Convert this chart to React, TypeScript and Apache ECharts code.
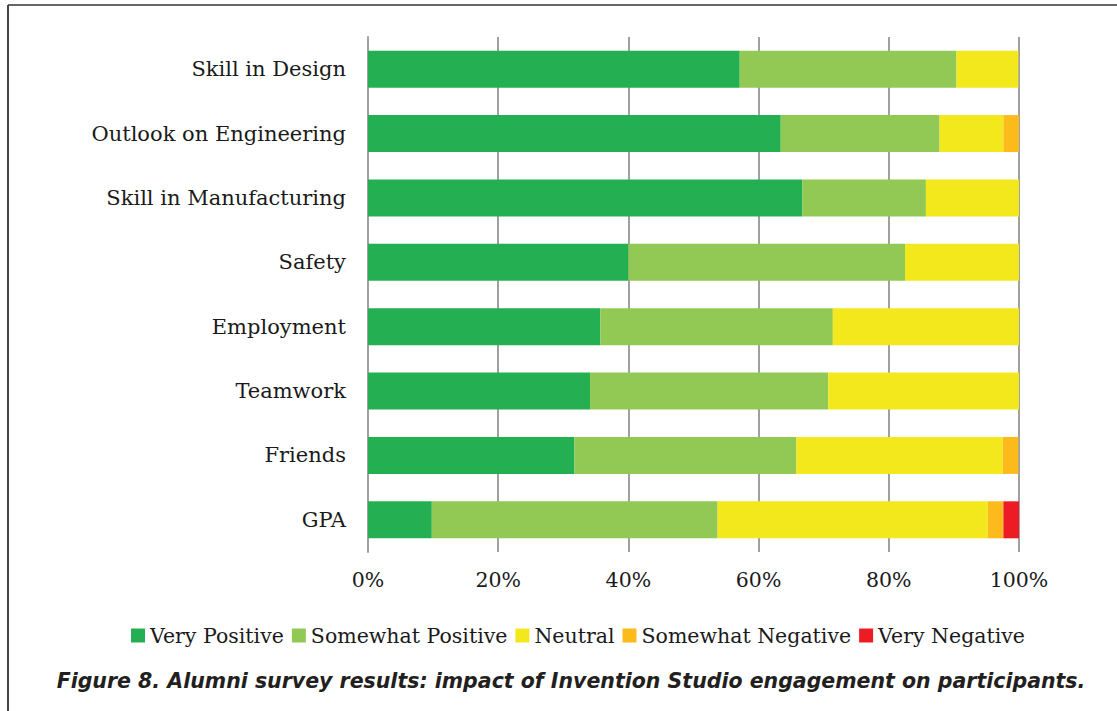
import React, { useEffect, useRef } from "react";
import * as echarts from "echarts";

const categories = [
  "Skill in Design",
  "Outlook on Engineering",
  "Skill in Manufacturing",
  "Safety",
  "Employment",
  "Teamwork",
  "Friends",
  "GPA",
];
const seriesNames = ["Very Positive", "Somewhat Positive", "Neutral", "Somewhat Negative", "Very Negative"];
const veryPositive = [57.1, 63.4, 66.7, 40.0, 35.7, 34.1, 31.7, 9.8];
const somewhatPositive = [33.3, 24.4, 19.0, 42.5, 35.7, 36.6, 34.1, 43.9];
const neutral = [9.5, 9.8, 14.3, 17.5, 28.6, 29.3, 31.7, 41.5];
const somewhatNegative = [0, 2.4, 0, 0, 0, 0, 2.4, 2.4];
const veryNegative = [0, 0, 0, 0, 0, 0, 0, 2.4];
const xTicks = [0, 20, 40, 60, 80, 100];
const colors = ["#24b052", "#92c955", "#f2e81c", "#fcbb1b", "#ed1c24"];
const caption = "Figure 8. Alumni survey results: impact of Invention Studio engagement on participants.";

export default function App() {
  const ref = useRef<HTMLDivElement>(null);
  useEffect(() => {
    document.body.style.margin = "0";
    if (!ref.current) return;
    const chart = echarts.init(ref.current, null, { renderer: "svg" });
    const values = [veryPositive, somewhatPositive, neutral, somewhatNegative, veryNegative];
    const serif = "'DejaVu Serif', serif";
    chart.setOption({
      animation: false,
      grid: { left: 368, right: 98, top: 37, bottom: 159 },
      xAxis: {
        type: "value",
        min: 0,
        max: 100,
        interval: 20,
        axisLine: { show: false },
        axisTick: { show: false },
        splitLine: { show: true, lineStyle: { color: "#a0a0a0", width: 2 } },
        axisLabel: {
          formatter: (v: number) => (xTicks.includes(v) ? v + "%" : ""),
          color: "#1a1a1a",
          fontFamily: serif,
          fontSize: 20.5,
          margin: 17,
        },
      },
      yAxis: {
        type: "category",
        data: categories,
        inverse: true,
        axisLine: { show: true, lineStyle: { color: "#a0a0a0", width: 2 } },
        axisTick: { show: false },
        axisLabel: { color: "#1a1a1a", fontFamily: serif, fontSize: 21, margin: 22 },
      },
      legend: {
        data: seriesNames,
        top: 620,
        left: 126,
        icon: "rect",
        itemWidth: 14,
        itemHeight: 14,
        itemGap: 8,
        textStyle: { color: "#1a1a1a", fontFamily: serif, fontSize: 20.5 },
      },
      series: seriesNames.map((name, i) => ({
        name,
        type: "bar",
        stack: "total",
        barWidth: 37,
        data: values[i],
        itemStyle: { color: colors[i] },
      })),
      graphic: [
        { type: "line", shape: { x1: 8, y1: 5, x2: 1117, y2: 5 }, style: { stroke: "#666", lineWidth: 2 } },
        { type: "line", shape: { x1: 8, y1: 5, x2: 8, y2: 711 }, style: { stroke: "#444", lineWidth: 2 } },
        {
          type: "text",
          x: 571,
          y: 681,
          style: {
            text: caption,
            fill: "#231f20",
            font: "italic bold 20.5px 'DejaVu Sans', sans-serif",
            textAlign: "center",
            textVerticalAlign: "middle",
          },
        },
      ],
    });
    return () => chart.dispose();
  }, []);
  return <div ref={ref} style={{ width: 1117, height: 711 }} />;
}
